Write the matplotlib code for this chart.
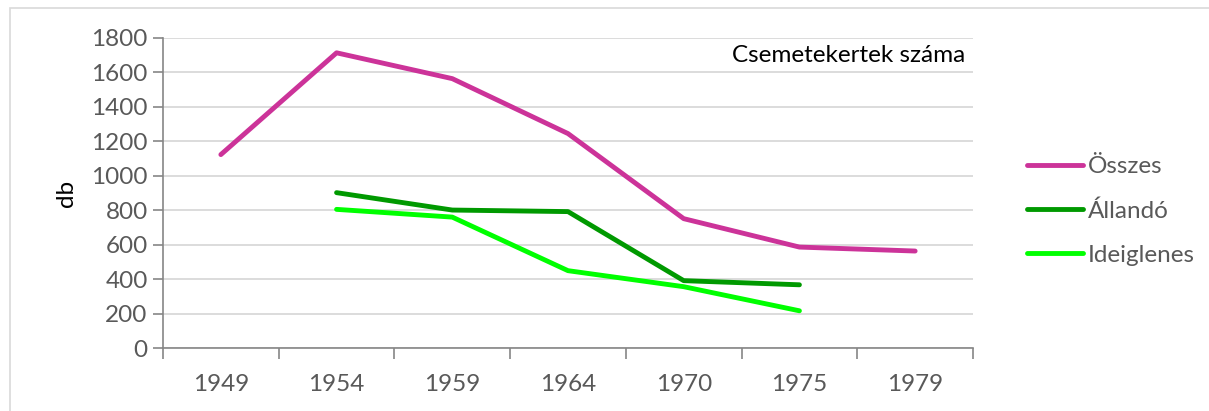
import matplotlib
matplotlib.use("Agg")
import matplotlib.pyplot as plt
from matplotlib.patches import Rectangle
import numpy as np

years = ["1949", "1954", "1959", "1964", "1970", "1975", "1979"]
osszes = [1123, 1714, 1564, 1245, 751, 586, 563]
allando = [None, 902, 801, 792, 391, 367, None]
ideiglenes = [None, 805, 760, 449, 356, 216, None]
series_names = ["Összes", "Állandó", "Ideiglenes"]
colors = ["#CC3399", "#009900", "#00FF00"]
yticks = list(range(0, 1801, 200))

plt.rcParams['font.family'] = ['Lato', 'DejaVu Sans']
FS = 17.5
LW = 3.5
W, H = 1209, 411
fig = plt.figure(figsize=(W/100, H/100), dpi=100)
fig.patches.append(Rectangle((10/W, -0.2), 1.2, (H-8)/H + 0.2, transform=fig.transFigure,
                             fill=False, edgecolor="#D9D9D9", lw=1.2))
ax = fig.add_axes([163/W, 1-348/H, (973-163)/W, (348-38)/H])

x = np.arange(len(years))
def arr(v):
    return np.array([np.nan if a is None else a for a in v], dtype=float)
for name, vals, c in zip(series_names, [osszes, allando, ideiglenes], colors):
    ax.plot(x, arr(vals), color=c, lw=LW, label=name, solid_capstyle='round')

ax.set_xlim(-0.5, len(years)-0.5)
ax.set_ylim(0, 1800)
ax.set_yticks(yticks)
ax.set_xticks(x)
ax.set_xticklabels(years)
ax.set_xticks(np.arange(-0.5, len(years), 1), minor=True)
ax.tick_params(axis='x', which='major', length=0, pad=19, labelsize=FS, labelcolor="#595959")
ax.tick_params(axis='x', which='minor', length=8, width=1.2, color="#868686")
ax.tick_params(axis='y', length=7, width=1.2, color="#868686", labelsize=FS, labelcolor="#595959", pad=4)
ax.grid(axis='y', color="#D9D9D9", lw=1.3)
ax.set_axisbelow(True)
for s in ['top', 'right']:
    ax.spines[s].set_visible(False)
for s in ['left', 'bottom']:
    ax.spines[s].set_color("#868686")
    ax.spines[s].set_linewidth(1.2)
ax.set_ylabel("db", fontsize=FS, color="black", labelpad=10)
ax.text(0.99, 0.945, "Csemetekertek száma", transform=ax.transAxes, ha='right', va='center',
        fontsize=FS, color='black')

leg = fig.legend(loc='center left', bbox_to_anchor=(1005/W, 1-211/H), frameon=False,
                 fontsize=FS, handlelength=2.3, handletextpad=0.2, labelspacing=0.95,
                 labelcolor="#595959")
for h in leg.get_lines():
    h.set_linewidth(LW)

fig.savefig("out.png", dpi=100)
